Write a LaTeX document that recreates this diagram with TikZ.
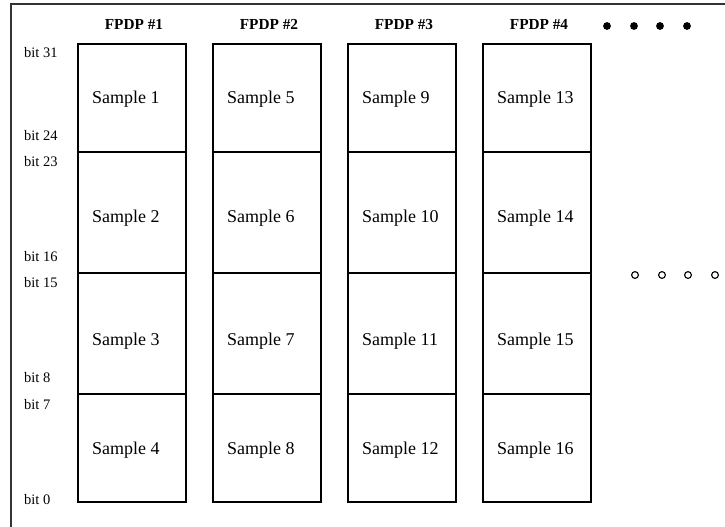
\documentclass[tikz,border=0pt]{standalone}
\usepackage{fontspec}
\setmainfont{Liberation Serif}
\begin{document}
\begin{tikzpicture}[x=1pt,y=-1pt,
  cell/.style={draw=black,line width=1.2pt,inner sep=0pt,minimum width=108pt},
  sampletext/.style={anchor=base west,inner sep=0pt,font=\fontsize{18}{21}\selectfont},
  bitlabel/.style={anchor=base west,inner sep=0pt,font=\fontsize{14.5}{17}\selectfont},
  header/.style={anchor=base,inner sep=0pt,font=\bfseries\fontsize{15.3}{18}\selectfont},
  fulldot/.style={fill=black,draw=none},
  opendot/.style={draw=black,line width=1.1pt,fill=white},
  frameline/.style={draw=black!80,line width=1.3pt}]
\useasboundingbox (0,0) rectangle (725,527);

% frame: top and left edges
\coordinate (ftop) at (725,4);
\coordinate (fcorner) at (11,4);
\coordinate (fbottom) at (11,527);
\draw[frameline] (ftop) -- (fcorner) -- (fbottom);

% column left edges and row boundaries
\foreach \c/\xl in {1/78,2/213,3/348,4/483}{
  \node[header] (h\c) at (\xl+56,29.5) {FPDP \#\c};
  \foreach \r/\yt/\yb in {1/44/152,2/152/273,3/273/394,4/394/502}{
    \node[cell,minimum height={\yb-\yt}] (c\c\r) at (\xl+54,{(\yt+\yb)/2}) {};
  }
}

% sample labels
\foreach \c/\xl in {1/78,2/213,3/348,4/483}{
  \foreach \r/\ty in {1/97,2/216,3/339,4/448}{
    \pgfmathtruncatemacro{\n}{(\c-1)*4+\r}
    \node[sampletext] (s\n) at (\xl+14,\ty+6) {Sample \n};
  }
}

% bit labels
\node[bitlabel] (b31) at (24,58) {bit 31};
\node[bitlabel] (b24) at (24,140) {bit 24};
\node[bitlabel] (b23) at (24,166) {bit 23};
\node[bitlabel] (b16) at (24,261) {bit 16};
\node[bitlabel] (b15) at (24,287) {bit 15};
\node[bitlabel] (b8)  at (24,382) {bit 8};
\node[bitlabel] (b7)  at (24,409) {bit 7};
\node[bitlabel] (b0)  at (24,504) {bit 0};

% continuation dots
\foreach \x [count=\i] in {607,634,660,687}
  \fill[fulldot] (\x,26) circle (3.9pt);
\foreach \x [count=\i] in {635,662,688,715}
  \draw[opendot] (\x,275) circle (3.4pt);
\end{tikzpicture}
\end{document}
